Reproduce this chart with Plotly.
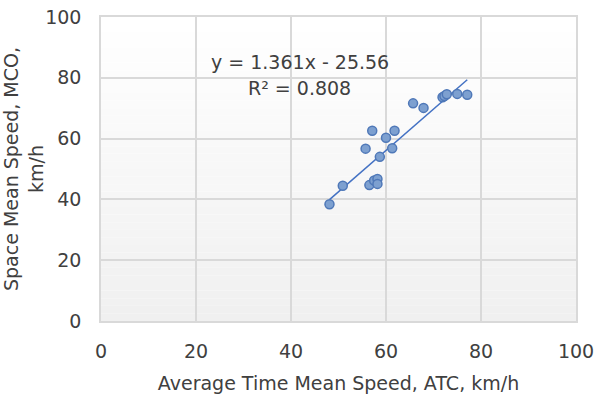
import plotly.graph_objects as go
import numpy as np

# Data
atc_speed = [48.1, 50.9, 56.5, 57.5, 58.2, 58.2, 58.7, 55.7, 61.3, 60.0,
             57.1, 61.8, 65.7, 67.9, 71.9, 72.3, 72.8, 75.0, 77.1]
mco_speed = [38.4, 44.5, 44.7, 46.2, 46.7, 45.1, 54.0, 56.7, 56.8, 60.3,
             62.6, 62.6, 71.6, 70.1, 73.6, 74.0, 74.6, 74.7, 74.4]
slope = 1.361
intercept = -25.56
r_squared = 0.808
tick_vals = [0, 20, 40, 60, 80, 100]

FONT = "DejaVu Sans"
TXT = "#404040"
FS = 19

fig = go.Figure()

x_line = np.array([min(atc_speed), max(atc_speed)])
y_line = slope * x_line + intercept
fig.add_trace(go.Scatter(x=x_line, y=y_line, mode="lines",
                         line=dict(color="#4472c4", width=1.5),
                         hoverinfo="skip", showlegend=False))
fig.add_trace(go.Scatter(x=atc_speed, y=mco_speed, mode="markers",
                         marker=dict(size=9, color="#7da0d0",
                                     line=dict(color="#4f78b8", width=1.5)),
                         showlegend=False))

# gradient background bands
shapes = []
n = 40
for i in range(n):
    t = i / (n - 1)
    c = int(round(255 - (255 - 240) * (1 - t)))
    shapes.append(dict(type="rect", xref="x domain", yref="y domain",
                       x0=0, x1=1, y0=i / n, y1=(i + 1) / n,
                       fillcolor=f"rgb({c},{c},{c})", line=dict(width=0),
                       layer="below"))

fig.update_layout(
    width=596, height=398,
    margin=dict(l=101, r=20, t=17, b=77),
    paper_bgcolor="white", plot_bgcolor="white",
    font=dict(family=FONT, size=FS, color=TXT),
    shapes=shapes,
    xaxis=dict(range=[0, 100], tickvals=tick_vals, showgrid=True,
               gridcolor="#d9d9d9", gridwidth=1.5, zeroline=False,
               showline=True, linecolor="#d9d9d9", linewidth=1.5, mirror=True,
               ticks="", ticklabelstandoff=12, automargin=False,
               tickfont=dict(size=FS),
               title=dict(text="Average Time Mean Speed, ATC, km/h",
                          font=dict(size=FS, color=TXT), standoff=16)),
    yaxis=dict(range=[0, 100], tickvals=tick_vals, showgrid=True,
               gridcolor="#d9d9d9", gridwidth=1.5, zeroline=False,
               showline=True, linecolor="#d9d9d9", linewidth=1.5, mirror=True,
               ticks="", ticklabelstandoff=14, automargin=False,
               tickfont=dict(size=FS),
               title=dict(text="Space Mean Speed, MCO,<br>km/h",
                          font=dict(size=FS, color=TXT), standoff=6)),
    annotations=[
        dict(x=41.9, y=85.2, xref="x", yref="y", showarrow=False,
             text=f"y = {slope}x - {abs(intercept)}",
             font=dict(size=FS, color=TXT)),
        dict(x=41.7, y=76.6, xref="x", yref="y", showarrow=False,
             text=f"R² = {r_squared}", font=dict(size=FS, color=TXT)),
    ],
)

fig.write_html("out.html")
